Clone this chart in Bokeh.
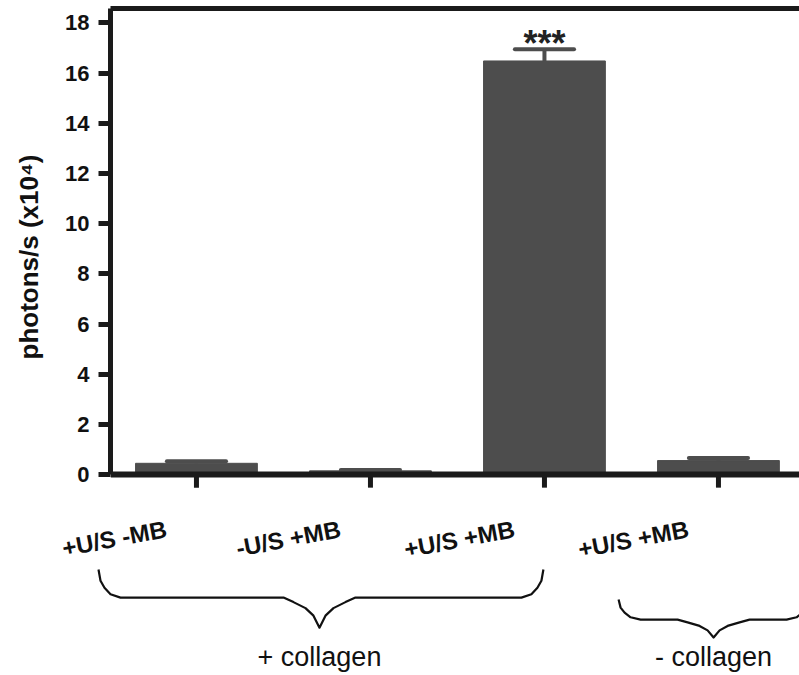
from bokeh.plotting import figure
from bokeh.layouts import column
from bokeh.models import Range1d, Span, LinearAxis, FixedTicker, ColumnDataSource
from bokeh.core.properties import value
from bokeh.embed import file_html
from bokeh.resources import INLINE

# ---------------- data ----------------
categories = ["+U/S -MB", "-U/S +MB", "+U/S +MB", "+U/S +MB"]
means = [0.45, 0.15, 16.48, 0.56]          # photons/s (x10^4)
sems = [0.08, 0.03, 0.47, 0.10]
significance = ["", "", "***", ""]
group_labels = ["+ collagen", "- collagen"]
y_ticks = [0, 2, 4, 6, 8, 10, 12, 14, 16, 18]
y_title = "photons/s (x10\u2074)"

# ---------------- layout / style constants ----------------
W = 799
H_TOP, H_BOT = 505, 170
BORDER_LEFT = 110
BORDER_TOP = 8
PX_PER_X = 174.0
PX_PER_Y = 25.1
X_START = 0.506
X_END = X_START + (W - BORDER_LEFT) / PX_PER_X
Y_TOP = 18.57
Y_MID = Y_TOP - (H_TOP - BORDER_TOP) / PX_PER_Y      # boundary between the two panels
Y_BOTTOM = Y_MID - H_BOT / PX_PER_Y
XB_START = X_START - BORDER_LEFT / PX_PER_X
BAR_W = 0.7
CAP_HALF = 0.17
BAR_COLOR = "#4d4d4d"
AXIS_COLOR = "#1a1a1a"
TEXT_COLOR = "#111111"
FONT = "Liberation Sans"
LABEL_Y = -2.15
TICK_DROP = -0.52
# brace geometry (data units): (left, centre, right, top, mid, tip)
BRACES = [(0.437, 1.707, 2.994, -3.78, -4.90, -6.10),
          (3.426, 3.972, 4.518, -4.98, -5.78, -6.49)]
GROUP_LABEL_Y = -7.25

xs = [i + 1 for i in range(len(categories))]

# ================= main chart =================
p = figure(width=W, height=H_TOP, output_backend="svg", toolbar_location=None,
           x_range=Range1d(X_START, X_END), y_range=Range1d(Y_MID, Y_TOP),
           x_axis_location=None, y_axis_location="left",
           min_border_left=BORDER_LEFT, min_border_right=0,
           min_border_top=BORDER_TOP, min_border_bottom=0, frame_align=False)
p.grid.visible = False
p.outline_line_color = None
p.background_fill_color = "white"
p.border_fill_color = "white"

src = ColumnDataSource(dict(x=xs, top=means,
                            err=[m + s for m, s in zip(means, sems)],
                            cl=[x - CAP_HALF for x in xs],
                            cr=[x + CAP_HALF for x in xs],
                            sig=significance))
p.vbar(x="x", top="top", bottom=0, width=BAR_W, source=src,
       fill_color=BAR_COLOR, line_color=BAR_COLOR, line_width=1)
p.segment(x0="x", y0="top", x1="x", y1="err", source=src,
          line_color=BAR_COLOR, line_width=4)
p.segment(x0="cl", y0="err", x1="cr", y1="err", source=src,
          line_color=BAR_COLOR, line_width=4, line_cap="round")

p.text(x="x", y="err", text="sig", source=src,
       text_align="center", text_baseline="alphabetic", y_offset=-6,
       text_font=value(FONT), text_font_style="bold", text_font_size="36px",
       text_color="#222222")

# category tick marks + x axis line
p.segment(x0=xs, y0=[0] * len(xs), x1=xs, y1=[TICK_DROP] * len(xs),
          line_color=AXIS_COLOR, line_width=5)
p.add_layout(Span(location=0, dimension="width", line_color=AXIS_COLOR, line_width=6))

ya = p.yaxis[0]
ya.ticker = FixedTicker(ticks=y_ticks, minor_ticks=[])
ya.bounds = (0, Y_TOP)
ya.axis_line_width = 5
ya.axis_line_color = AXIS_COLOR
ya.major_tick_line_width = 5
ya.major_tick_line_color = AXIS_COLOR
ya.major_tick_out = 12
ya.major_tick_in = 0
ya.minor_tick_line_color = None
ya.major_label_standoff = 9
ya.major_label_text_font = FONT
ya.major_label_text_font_style = "bold"
ya.major_label_text_font_size = "22px"
ya.major_label_text_color = TEXT_COLOR
ya.axis_label = y_title
ya.axis_label_text_font = FONT
ya.axis_label_text_font_style = "bold"
ya.axis_label_text_font_size = "26px"
ya.axis_label_text_color = TEXT_COLOR
ya.axis_label_standoff = 18

top = LinearAxis(ticker=FixedTicker(ticks=[]), major_tick_out=0, major_tick_in=0,
                 major_label_text_font_size="0px", major_label_standoff=0,
                 axis_line_width=5, axis_line_color=AXIS_COLOR,
                 minor_tick_line_color=None)
p.add_layout(top, "above")

# ================= labels / braces panel =================
q = figure(width=W, height=H_BOT, output_backend="svg", toolbar_location=None,
           x_range=Range1d(XB_START, X_END), y_range=Range1d(Y_BOTTOM, Y_MID),
           x_axis_location=None, y_axis_location=None,
           min_border_left=0, min_border_right=0, min_border_top=0, min_border_bottom=0,
           frame_align=False)
q.grid.visible = False
q.outline_line_color = None
q.background_fill_color = "white"
q.border_fill_color = "white"

q.text(x=xs, y=[LABEL_Y] * len(xs), text=categories, angle=0.187,
       text_align="right", text_baseline="alphabetic", x_offset=-30,
       text_font=value(FONT), text_font_style="bold", text_font_size="24px",
       text_color=TEXT_COLOR)

def brace(x0, xc, x1, ytop, ymid, ytip):
    h1 = (ymid - ytop)
    h2 = (ytip - ymid)
    hook = [(0, 1.0), (2, 0.6), (6, 0.35), (12, 0.12), (22, 0.0)]
    left = [(x0 + dx / PX_PER_X, ymid - f * h1) for dx, f in hook]
    hump = [(-36, 0.0), (-26, 0.15), (-14, 0.35), (-6, 0.6), (0, 1.0)]
    cen_l = [(xc + dx / PX_PER_X, ymid + f * h2) for dx, f in hump]
    cen_r = [(xc - dx / PX_PER_X, ymid + f * h2) for dx, f in reversed(hump)][1:]
    right = [(x1 - dx / PX_PER_X, ymid - f * h1) for dx, f in reversed(hook)]
    pts = left + cen_l + cen_r + right
    return [t[0] for t in pts], [t[1] for t in pts]

for b in BRACES:
    bx, by = brace(*b)
    q.line(bx, by, line_color=TEXT_COLOR, line_width=2.2, line_join="round")

q.text(x=[b[1] for b in BRACES], y=[GROUP_LABEL_Y] * len(BRACES), text=group_labels,
       text_align="center", text_baseline="alphabetic",
       text_font=value(FONT), text_font_size="27px", text_color=TEXT_COLOR)

layout = column(p, q, spacing=0)
open("out.html", "w").write(file_html(layout, INLINE))
